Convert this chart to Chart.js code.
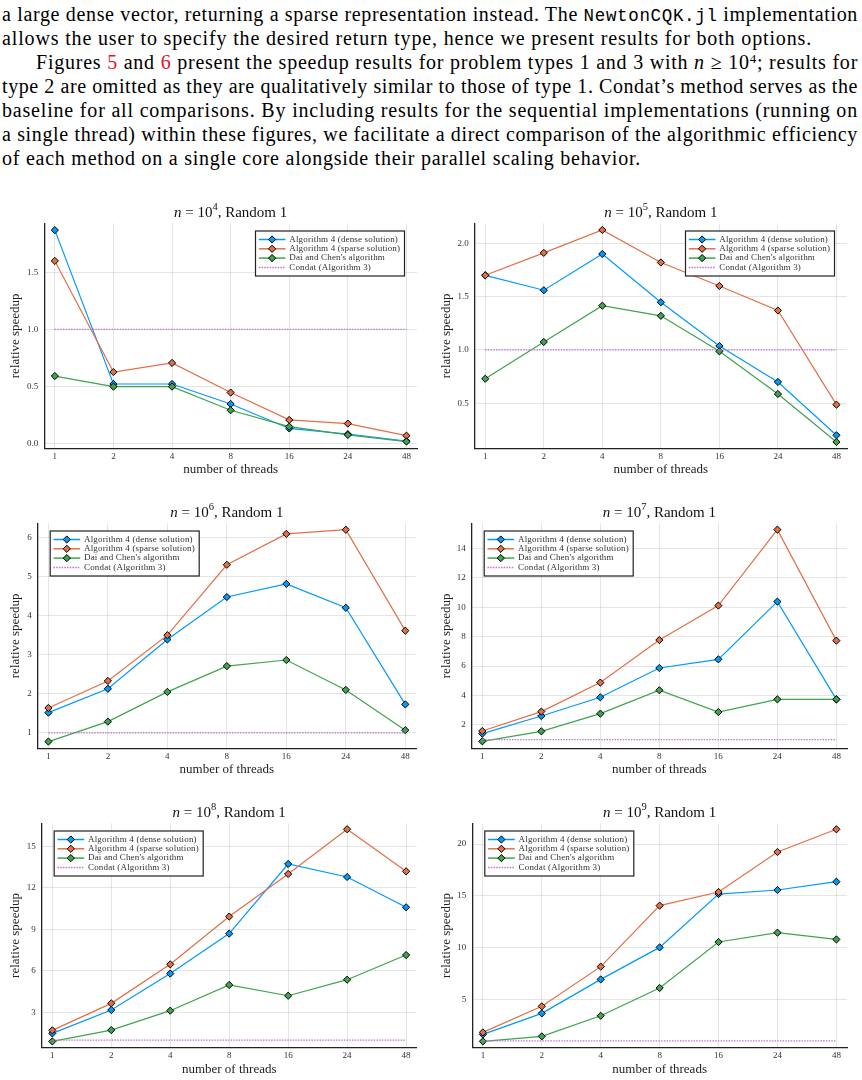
<!DOCTYPE html>
<html><head><meta charset="utf-8">
<script src="https://cdn.jsdelivr.net/npm/chart.js@4.4.1/dist/chart.umd.min.js"></script>
<style>
html,body{margin:0;padding:0;background:#fff;}
body{width:862px;height:1080px;position:relative;overflow:hidden;font-family:"Liberation Serif",serif;color:#000;}
#para{position:absolute;left:2px;top:2px;width:860px;font-family:"Liberation Serif",serif;font-size:20px;line-height:24px;}
.ln{height:24px;white-space:nowrap;}
.tt{font-family:"Liberation Mono",monospace;font-size:17.5px;}
.red{color:#e8141c;}
sup{font-size:65%;line-height:0;vertical-align:0.5em;}
canvas{position:absolute;}
.ttl{position:absolute;font-size:15px;transform:translate(-50%,-50%);white-space:nowrap;font-family:"Liberation Serif",serif;color:#111;}
.ttl sup{font-size:70%;vertical-align:0.6em;}
</style>
</head><body>
<div id="para">
<div class="ln" data-w="856">a large dense vector, returning a sparse representation instead. The <span class="tt">NewtonCQK.jl</span> implementation</div>
<div class="ln" data-w="810">allows the user to specify the desired return type, hence we present results for both options.</div>
<div class="ln" data-w="822" data-indent="34">Figures <span class="red">5</span> and <span class="red">6</span> present the speedup results for problem types 1 and 3 with <i>n</i> ≥ 10<sup>4</sup>; results for</div>
<div class="ln" data-w="856">type 2 are omitted as they are qualitatively similar to those of type 1. Condat’s method serves as the</div>
<div class="ln" data-w="856">baseline for all comparisons. By including results for the sequential implementations (running on</div>
<div class="ln" data-w="856">a single thread) within these figures, we facilitate a direct comparison of the algorithmic efficiency</div>
<div class="ln" data-w="639">of each method on a single core alongside their parallel scaling behavior.</div>
</div>
<div id="charts"></div>
<script>
// ---------- data ----------
const threads = ['1', '2', '4', '8', '16', '24', '48'];
const seriesNames = ['Algorithm 4 (dense solution)', 'Algorithm 4 (sparse solution)', "Dai and Chen's algorithm", 'Condat (Algorithm 3)'];
const sizeExponents = [4, 5, 6, 7, 8, 9];
const condat = [1, 1, 1, 1, 1, 1, 1];

const dense_1e4  = [1.87, 0.52, 0.52, 0.345, 0.13, 0.08, 0.02];
const sparse_1e4 = [1.60, 0.625, 0.705, 0.445, 0.205, 0.173, 0.067];
const dai_1e4    = [0.59, 0.497, 0.497, 0.29, 0.146, 0.073, 0.015];

const dense_1e5  = [1.70, 1.56, 1.90, 1.447, 1.037, 0.70, 0.20];
const sparse_1e5 = [1.70, 1.91, 2.125, 1.82, 1.60, 1.37, 0.487];
const dai_1e5    = [0.73, 1.075, 1.415, 1.32, 0.987, 0.587, 0.137];

const dense_1e6  = [1.52, 2.13, 3.39, 4.475, 4.81, 4.20, 1.73];
const sparse_1e6 = [1.64, 2.33, 3.50, 5.30, 6.09, 6.196, 3.615];
const dai_1e6    = [0.78, 1.29, 2.05, 2.71, 2.865, 2.10, 1.07];

const dense_1e7  = [1.41, 2.61, 3.88, 5.87, 6.46, 10.38, 3.74];
const sparse_1e7 = [1.59, 2.91, 4.88, 7.77, 10.11, 15.27, 7.73];
const dai_1e7    = [0.89, 1.57, 2.77, 4.36, 2.88, 3.74, 3.74];

const dense_1e8  = [1.48, 3.17, 5.80, 8.69, 13.72, 12.78, 10.59];
const sparse_1e8 = [1.70, 3.65, 6.47, 9.92, 13.0, 16.23, 13.19];
const dai_1e8    = [0.90, 1.72, 3.12, 4.98, 4.20, 5.36, 7.14];

const dense_1e9  = [1.62, 3.65, 6.93, 10.02, 15.17, 15.56, 16.36];
const sparse_1e9 = [1.81, 4.33, 8.16, 14.05, 15.37, 19.23, 21.42];
const dai_1e9    = [0.95, 1.43, 3.42, 6.10, 10.54, 11.44, 10.79];

const yTicks_1e4 = [0, 0.5, 1.0, 1.5];
const yTicks_1e5 = [0.5, 1.0, 1.5, 2.0];
const yTicks_1e6 = [1, 2, 3, 4, 5, 6];
const yTicks_1e7 = [2, 4, 6, 8, 10, 12, 14];
const yTicks_1e8 = [3, 6, 9, 12, 15];
const yTicks_1e9 = [5, 10, 15, 20];

// ---------- paragraph fitting (letter spacing so each line spans its width) ----------
document.querySelectorAll('#para .ln').forEach(el => {
  const ind = +(el.dataset.indent || 0);
  el.style.paddingLeft = ind + 'px';
  const target = +el.dataset.w;
  const range = document.createRange(); range.selectNodeContents(el);
  const w = range.getBoundingClientRect().width;
  const n = el.textContent.trim().length;
  el.style.letterSpacing = ((target - w) / n) + 'px';
});

// ---------- style ----------
const colors = ['#009AFA', '#E36F47', '#3EA44E', '#C271D2'];
const SERIF = '"Liberation Serif", serif';
const LEG_FONT = 9;
const LEG_TARGET = 111; // width of the longest legend entry in the reference

const boxLegend = {
  id: 'boxLegend',
  afterDraw(chart, args, opts) {
    const ctx = chart.ctx, ca = chart.chartArea;
    const w = 149, h = 45;
    const x = opts.side === 'right' ? ca.right - 12.5 - w : ca.left + 12.5;
    const y = ca.top + 7.7;
    ctx.save();
    ctx.fillStyle = '#fff'; ctx.fillRect(x, y, w, h);
    ctx.strokeStyle = '#222'; ctx.lineWidth = 1.2; ctx.strokeRect(x, y, w, h);
    ctx.font = LEG_FONT + 'px ' + SERIF;
    const hasLS = ('letterSpacing' in ctx);
    if (hasLS) ctx.letterSpacing = '0px';
    const longest = chart.data.datasets.reduce((a, d) => d.label.length > a.length ? d.label : a, '');
    const w0 = ctx.measureText(longest).width;
    let ls = (LEG_TARGET - w0) / longest.length;
    if (ls < 0) ls = 0;
    chart.data.datasets.forEach((ds, i) => {
      const ey = y + 8.5 + i * 9.3;
      ctx.beginPath();
      ctx.strokeStyle = ds.borderColor; ctx.lineWidth = 1.5;
      ctx.setLineDash(ds.borderDash || []);
      ctx.moveTo(x + 3.3, ey); ctx.lineTo(x + 30, ey); ctx.stroke();
      ctx.setLineDash([]);
      if (ds.pointRadius > 0) {
        const cx = x + 16.6, r = 3.6;
        ctx.beginPath();
        ctx.moveTo(cx - r, ey); ctx.lineTo(cx, ey - r); ctx.lineTo(cx + r, ey); ctx.lineTo(cx, ey + r); ctx.closePath();
        ctx.fillStyle = ds.pointBackgroundColor; ctx.fill();
        ctx.strokeStyle = '#000'; ctx.lineWidth = 1; ctx.stroke();
      }
      ctx.fillStyle = '#333'; ctx.font = LEG_FONT + 'px ' + SERIF; ctx.textBaseline = 'middle'; ctx.textAlign = 'left';
      if (hasLS) ctx.letterSpacing = ls.toFixed(2) + 'px';
      ctx.fillText(ds.label, x + 33.8, ey);
      if (hasLS) ctx.letterSpacing = '0px';
    });
    ctx.restore();
  }
};

function makeChart(exp, dense, sparse, dai, yTicks, yMin, yMax, decimals, side, colX, rect) {
  const top = Math.floor(rect.T) - 24;
  const bottom = Math.ceil(rect.B) + 33;
  const H = bottom - top;
  const cv = document.createElement('canvas');
  cv.width = 431; cv.height = H;
  cv.style.left = colX + 'px'; cv.style.top = top + 'px';
  cv.style.width = '431px'; cv.style.height = H + 'px';
  document.getElementById('charts').appendChild(cv);

  const t = document.createElement('div');
  t.className = 'ttl';
  t.style.left = ((rect.L + rect.R) / 2) + 'px';
  t.style.top = (rect.T - 11.5) + 'px';
  t.innerHTML = '<i>n</i> = 10<sup>' + exp + '</sup>, Random 1';
  document.body.appendChild(t);

  const titleFont = 13, lh = titleFont * 1.2;
  const xTitleY = rect.B + 21.4;
  const yTitleX = colX + 16;

  const pts = arr => arr.map((v, i) => ({x: i, y: v}));
  const mkSeries = (arr, k) => ({
    label: seriesNames[k], data: pts(arr),
    borderColor: colors[k], backgroundColor: colors[k],
    borderWidth: 1.2, pointStyle: 'rectRot', pointRadius: 3.6,
    pointBackgroundColor: colors[k], pointBorderColor: '#000', pointBorderWidth: 1,
    tension: 0, order: 4 - k
  });
  const datasets = [
    mkSeries(dense, 0), mkSeries(sparse, 1), mkSeries(dai, 2),
    {label: seriesNames[3], data: pts(condat), borderColor: colors[3], backgroundColor: colors[3],
     borderWidth: 1.3, borderDash: [1.5, 1.2], pointRadius: 0, order: 0}
  ];

  new Chart(cv, {
    type: 'line',
    data: {datasets},
    plugins: [boxLegend],
    options: {
      responsive: false, animation: false, devicePixelRatio: 1,
      layout: {padding: {left: 0, top: rect.T - top, right: colX + 431 - rect.R, bottom: 0}},
      plugins: {legend: {display: false}, tooltip: {enabled: false}, title: {display: false},
                boxLegend: {side}},
      scales: {
        x: {
          type: 'linear', min: -0.18, max: 6.18,
          afterBuildTicks: s => { s.ticks = threads.map((_, i) => ({value: i})); },
          afterFit: s => { s.height = bottom - rect.B; },
          ticks: {callback: v => threads[v], color: '#333', font: {family: SERIF, size: 9}, padding: 2.5, maxRotation: 0, autoSkip: false},
          grid: {color: 'rgba(0,0,0,0.10)', lineWidth: 1, drawTicks: false},
          border: {color: '#222', width: 1.3},
          title: {display: true, text: 'number of threads', color: '#222', font: {family: SERIF, size: titleFont},
                  padding: {top: 0, bottom: (bottom - xTitleY) - lh / 2}}
        },
        y: {
          type: 'linear', min: yMin, max: yMax,
          afterBuildTicks: s => { s.ticks = yTicks.map(v => ({value: v})); },
          afterFit: s => { s.width = rect.L - colX; },
          ticks: {callback: v => v.toFixed(decimals), color: '#333', font: {family: SERIF, size: 9}, padding: 6},
          grid: {color: 'rgba(0,0,0,0.10)', lineWidth: 1, drawTicks: false},
          border: {color: '#222', width: 1.3},
          title: {display: true, text: 'relative speedup', color: '#222', font: {family: SERIF, size: titleFont},
                  padding: {top: (yTitleX - colX) - lh / 2, bottom: 0}}
        }
      }
    }
  });
}

makeChart(sizeExponents[0], dense_1e4, sparse_1e4, dai_1e4, yTicks_1e4, -0.044, 1.93, 1, 'right', 0,   {L: 44.3,  T: 223.3, R: 417,   B: 448.3});
makeChart(sizeExponents[1], dense_1e5, sparse_1e5, dai_1e5, yTicks_1e5, 0.078, 2.1875, 1, 'right', 431, {L: 474.7, T: 223.3, R: 847,   B: 448.3});
makeChart(sizeExponents[2], dense_1e6, sparse_1e6, dai_1e6, yTicks_1e6, 0.608, 6.36, 0, 'left', 0,    {L: 37.7,  T: 523.3, R: 416,   B: 748.3});
makeChart(sizeExponents[3], dense_1e7, sparse_1e7, dai_1e7, yTicks_1e7, 0.416, 15.70, 0, 'left', 431, {L: 471.7, T: 523.3, R: 847,   B: 748.3});
makeChart(sizeExponents[4], dense_1e8, sparse_1e8, dai_1e8, yTicks_1e8, 0.446, 16.66, 0, 'left', 0,   {L: 41.7,  T: 823.3, R: 416.7, B: 1047.7});
makeChart(sizeExponents[5], dense_1e9, sparse_1e9, dai_1e9, yTicks_1e9, 0.335, 22.0, 0, 'left', 431,  {L: 472.3, T: 823.3, R: 847,   B: 1047.7});
</script>
</body></html>
